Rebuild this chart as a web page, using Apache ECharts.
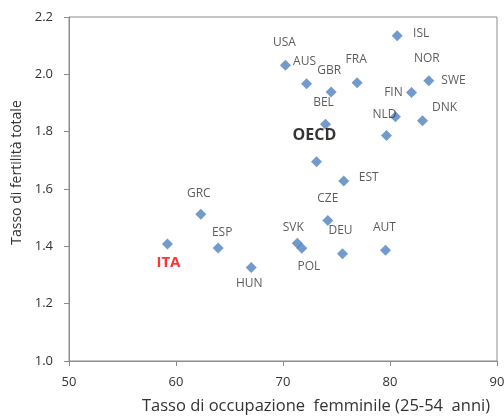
<!DOCTYPE html>
<html><head><meta charset="utf-8">
<script src="https://cdn.jsdelivr.net/npm/echarts@6/dist/echarts.min.js"></script>
<style>html,body{margin:0;padding:0;background:#fff}#c{width:504px;height:417px}</style>
</head><body><div id="c"></div>
<script>
const countries = ['ISL','USA','AUS','GBR','FRA','SWE','NOR','FIN','NLD','DNK','BEL','OECD','EST','CZE','SVK','POL','DEU','AUT','GRC','ESP','ITA','HUN'];
const employment = [80.67,70.23,72.2,74.5,76.93,82.01,83.63,80.51,79.67,83.04,73.97,73.13,75.68,74.19,71.33,71.76,75.56,79.58,62.32,63.94,59.2,67.03];
const fertility = [2.135,2.032,1.967,1.938,1.971,1.937,1.978,1.852,1.787,1.838,1.826,1.695,1.628,1.49,1.411,1.393,1.374,1.386,1.512,1.394,1.408,1.326];
const xTicks = [50,60,70,80,90];
const yTicks = [1.0,1.2,1.4,1.6,1.8,2.0,2.2];

// label placement (layout only)
const labelOffset = {
  ISL:[24,-2], USA:[-1,-23], AUS:[-2,-22], GBR:[-2,-22], FRA:[-1,-23], SWE:[42,-12],
  NOR:[-2,-22], FIN:[-2,-24], NLD:[-2,-21], DNK:[22,-13], BEL:[-2,-22], OECD:[-2,-26],
  EST:[25,-3], CZE:[0,-22], SVK:[-4,-16], POL:[7,18], DEU:[-2,-23], AUT:[-1,-23],
  GRC:[-2,-21], ESP:[4,-15], ITA:[1,19], HUN:[-2,16]
};
const FONT = '"Open Sans"';
const SYM = 11;
const TXT = '#333333';
const data = countries.map((c,i)=>{
  const o = labelOffset[c];
  const lab = {show:true, position:[SYM/2+o[0], SYM/2+o[1]], align:'center', verticalAlign:'middle',
    formatter:c, color:TXT, fontSize:12, fontFamily:FONT};
  if (c==='OECD'){ lab.fontWeight='bold'; lab.color='#000'; lab.fontSize=16; }
  if (c==='ITA'){ lab.fontWeight='bold'; lab.color='#ff0000'; lab.fontSize=15; }
  return {value:[employment[i], fertility[i]], name:c, label:lab};
});
const chart = echarts.init(document.getElementById('c'), null, {renderer:'canvas'});
const axisCol = '#8c8c8c';
chart.setOption({
  animation:false,
  grid:{left:69, right:7, top:17, bottom:56, show:true, borderColor:axisCol, borderWidth:1,
    containLabel:false, outerBoundsMode:'none'},
  xAxis:{type:'value', min:xTicks[0], max:xTicks[xTicks.length-1], interval:10,
    name:'Tasso di occupazione  femminile (25-54  anni)', nameLocation:'middle', nameGap:37,
    nameTextStyle:{fontSize:16.5, color:TXT, fontFamily:FONT, padding:[0,0,0,66]},
    axisLine:{lineStyle:{color:axisCol}}, axisTick:{show:true, length:5, lineStyle:{color:axisCol}},
    axisLabel:{fontSize:13, color:TXT, fontFamily:FONT, margin:15},
    splitLine:{show:false}},
  yAxis:{type:'value', min:yTicks[0], max:yTicks[yTicks.length-1], interval:0.2,
    name:'Tasso di fertilità totale', nameLocation:'middle', nameGap:45,
    nameTextStyle:{fontSize:14, color:TXT, fontFamily:FONT, padding:[0,0,0,33]},
    axisLine:{show:true, lineStyle:{color:axisCol}}, axisTick:{show:true, length:5, lineStyle:{color:axisCol}},
    axisLabel:{fontSize:13, color:TXT, fontFamily:FONT, margin:16, formatter:v=>v.toFixed(1)},
    splitLine:{show:false}},
  series:[{type:'scatter', symbol:'diamond', symbolSize:[SYM,SYM],
    itemStyle:{color:'#4F81BD'}, data:data}]
});
</script></body></html>
